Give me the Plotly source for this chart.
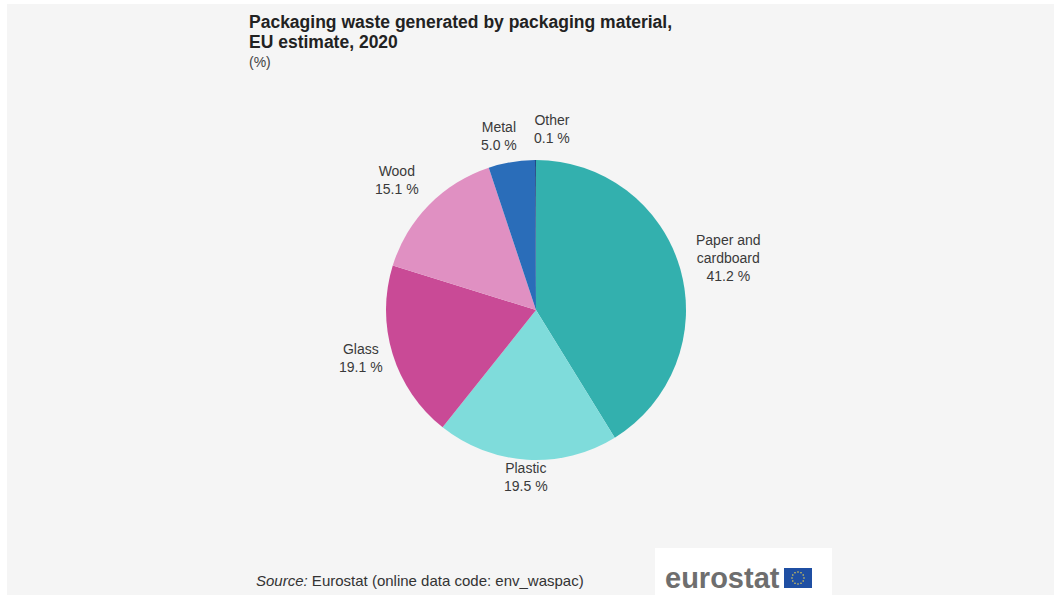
import math
import plotly.graph_objects as go

# ---- data ----
categories = ["Paper and<br>cardboard", "Plastic", "Glass", "Wood", "Metal", "Other"]
shares = [41.2, 19.5, 19.1, 15.1, 5.0, 0.1]

# ---- styles ----
colors = ["#33b0ae", "#7fdcdb", "#c94a96", "#e090c2", "#2a6db9", "#173f7e"]
label_nudge = [(2, -8), (0, -14), (4, 0), (1, 2), (-11, 5), (17, 0)]  # px (dx, dy down)

W, H = 1054, 595
CX, CY, R = 536, 310, 150  # pie centre/radius in px (layout)
FONT = "Liberation Sans, Arial, sans-serif"

def px(x):
    return x / W

def py(y):
    return 1 - y / H

fig = go.Figure()
fig.add_trace(go.Pie(
    labels=categories,
    values=shares,
    sort=False,
    direction="clockwise",
    rotation=0,
    marker=dict(colors=colors, line=dict(width=0)),
    textinfo="none",
    hovertemplate="%{label}: %{value:.1f} %<extra></extra>",
    domain=dict(x=[px(CX - R), px(CX + R)], y=[py(CY + R), py(CY - R)]),
    showlegend=False,
))

annotations = []
total = sum(shares)
cum = 0.0
for lab, v, (dx, dy) in zip(categories, shares, label_nudge):
    mid = (cum + v / 2) / total * 2 * math.pi
    cum += v
    s, c = math.sin(mid), math.cos(mid)
    ax = CX + R * 1.08 * s
    ay = CY - R * 1.08 * c
    if s > 0.3:
        xa = "left"
    elif s < -0.3:
        xa = "right"
    else:
        xa = "center"
    if c > 0.3:
        ya = "bottom"
    elif c < -0.3:
        ya = "top"
    else:
        ya = "middle"
    annotations.append(dict(
        x=px(ax + dx), y=py(ay + dy), xref="paper", yref="paper",
        text=f"{lab}<br>{v:.1f} %", showarrow=False,
        xanchor=xa, yanchor=ya, align="center",
        font=dict(family=FONT, size=14, color="#3a3a3a"),
    ))

# title, unit, source
annotations += [
    dict(x=px(247), y=py(22), xref="paper", yref="paper", xanchor="left", yanchor="middle",
         text="<b>Packaging waste generated by packaging material,</b>",
         showarrow=False, align="left",
         font=dict(family=FONT, size=17.5, color="#222222")),
    dict(x=px(247), y=py(42), xref="paper", yref="paper", xanchor="left", yanchor="middle",
         text="<b>EU estimate, 2020</b>",
         showarrow=False, align="left",
         font=dict(family=FONT, size=17.5, color="#222222")),
    dict(x=px(247), y=py(62), xref="paper", yref="paper", xanchor="left", yanchor="middle",
         text="(%)", showarrow=False, align="left",
         font=dict(family=FONT, size=14, color="#444444")),
    dict(x=px(254), y=py(580), xref="paper", yref="paper", xanchor="left", yanchor="middle",
         text="<i>Source:</i> Eurostat (online data code: env_waspac)", showarrow=False,
         font=dict(family=FONT, size=15, color="#333333")),
    dict(x=px(663), y=py(578), xref="paper", yref="paper", xanchor="left", yanchor="middle",
         text="<b>eurostat</b>", showarrow=False,
         font=dict(family=FONT, size=29, color="#6e6e6e")),
]

shapes = [
    # white border strips of the original image
    dict(type="rect", xref="paper", yref="paper", x0=0, x1=px(7), y0=0, y1=1,
         fillcolor="white", line=dict(width=0), layer="below"),
    dict(type="rect", xref="paper", yref="paper", x0=0, x1=1, y0=py(4), y1=1,
         fillcolor="white", line=dict(width=0), layer="below"),
    # logo box
    dict(type="rect", xref="paper", yref="paper", x0=px(655), x1=px(832), y0=py(595), y1=py(548),
         fillcolor="white", line=dict(width=0), layer="below"),
    # EU flag
    dict(type="rect", xref="paper", yref="paper", x0=px(784), x1=px(812), y0=py(588), y1=py(568),
         fillcolor="#1f4fa3", line=dict(width=0)),
]
fcx, fcy, fr = 798, 578, 6
for k in range(12):
    a = k / 12 * 2 * math.pi
    sx, sy = fcx + fr * math.sin(a), fcy - fr * math.cos(a)
    shapes.append(dict(type="circle", xref="paper", yref="paper",
                       x0=px(sx - 0.8), x1=px(sx + 0.8), y0=py(sy + 0.8), y1=py(sy - 0.8),
                       fillcolor="#e8cf50", line=dict(width=0)))

fig.update_layout(
    width=W, height=H,
    margin=dict(l=0, r=0, t=0, b=0),
    paper_bgcolor="#f5f5f5",
    plot_bgcolor="#f5f5f5",
    annotations=annotations,
    shapes=shapes,
)

fig.write_html("out.html")
